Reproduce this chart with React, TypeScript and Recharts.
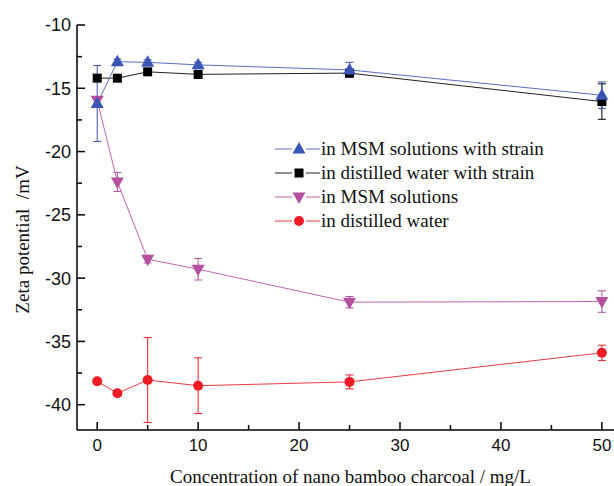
import { ErrorBar, Line, LineChart, XAxis, YAxis } from 'recharts';

// concentration of nano bamboo charcoal, mg/L
const concentrations = [0, 2, 5, 10, 25, 50];

// zeta potential, mV (with error bars)
const msmStrain = [-16.2, -12.9, -12.95, -13.15, -13.55, -15.55];
const msmStrainErr = [3.0, 0.2, 0.2, 0.2, 0.6, 1.05];
const waterStrain = [-14.2, -14.2, -13.7, -13.9, -13.8, -16.05];
const waterStrainErr = [0.2, 0.2, 0.2, 0.3, 0.2, 1.4];
const msm = [-15.95, -22.4, -28.5, -29.3, -31.9, -31.85];
const msmErr = [0.3, 0.75, 0.3, 0.85, 0.45, 0.85];
const water = [-38.15, -39.1, -38.05, -38.5, -38.2, -35.9];
const waterErr = [0.2, 0.15, 3.35, 2.2, 0.55, 0.6];

const xTicks = [0, 5, 10, 15, 20, 25, 30, 35, 40, 45, 50];
const yTicks = [-40, -37.5, -35, -32.5, -30, -27.5, -25, -22.5, -20, -17.5, -15, -12.5, -10];

const data = concentrations.map((x, i) => ({
  x,
  msmStrain: msmStrain[i],
  msmStrainErr: msmStrainErr[i],
  waterStrain: waterStrain[i],
  waterStrainErr: waterStrainErr[i],
  msm: msm[i],
  msmErr: msmErr[i],
  water: water[i],
  waterErr: waterErr[i],
}));

type Shape = 'up' | 'square' | 'down' | 'circle';

const series: { key: string; name: string; color: string; line: string; shape: Shape }[] = [
  { key: 'msmStrain', name: 'in MSM solutions with strain', color: '#3a55b4', line: '#5a6ec4', shape: 'up' },
  { key: 'waterStrain', name: 'in distilled water with strain', color: '#000000', line: '#222222', shape: 'square' },
  { key: 'msm', name: 'in MSM solutions', color: '#b5509f', line: '#c463b6', shape: 'down' },
  { key: 'water', name: 'in distilled water', color: '#ee1c25', line: '#ee3a40', shape: 'circle' },
];

const SANS = '"Liberation Sans", Arial, sans-serif';
const SERIF = '"Liberation Serif", "Times New Roman", serif';

function Marker({ cx, cy, shape, color }: { cx: number; cy: number; shape: Shape; color: string }) {
  if (shape === 'up')
    return <polygon points={`${cx},${cy - 7} ${cx - 6.5},${cy + 4.5} ${cx + 6.5},${cy + 4.5}`} fill={color} />;
  if (shape === 'down')
    return <polygon points={`${cx},${cy + 7} ${cx - 6.5},${cy - 4.5} ${cx + 6.5},${cy - 4.5}`} fill={color} />;
  if (shape === 'square') return <rect x={cx - 4.5} y={cy - 4.5} width={9} height={9} fill={color} />;
  return <circle cx={cx} cy={cy} r={5} fill={color} />;
}

const YTick = (props: any) => {
  const { x, y, payload } = props;
  const major = payload.value % 5 === 0;
  const ax = x + 1;
  return (
    <g>
      <line x1={ax} x2={ax + (major ? 8 : 5)} y1={y} y2={y} stroke="#000" strokeWidth={1.5} />
      {major && (
        <text x={ax - 6} y={y} dy="0.36em" textAnchor="end" fontFamily={SANS} fontSize={18} fill="#111">
          {payload.value}
        </text>
      )}
    </g>
  );
};

const XTick = (props: any) => {
  const { x, y, payload } = props;
  const major = payload.value % 10 === 0;
  const ay = y - 1;
  return (
    <g>
      <line x1={x} x2={x} y1={ay} y2={ay - (major ? 8 : 5)} stroke="#000" strokeWidth={1.5} />
      {major && (
        <text x={x} y={ay + 21} textAnchor="middle" fontFamily={SANS} fontSize={17} fill="#111">
          {payload.value}
        </text>
      )}
    </g>
  );
};

const TopTick = (props: any) => {
  const { x, y, payload } = props;
  const major = payload.value % 10 === 0;
  const ay = y + 1;
  return <line x1={x} x2={x} y1={ay} y2={ay + (major ? 8 : 5)} stroke="#000" strokeWidth={1.5} />;
};

export default function App() {
  return (
    <div style={{ position: 'absolute', left: 0, top: 0, width: 614, height: 486, background: '#fff' }}>
      <LineChart width={614} height={486} data={data} margin={{ top: 25, right: 0, left: 0, bottom: 0 }}>
        <XAxis
          type="number"
          dataKey="x"
          domain={[-2, 51.2]}
          ticks={xTicks}
          interval={0}
          height={56}
          tick={XTick}
          tickSize={1}
          tickMargin={0}
          tickLine={false}
          axisLine={{ stroke: '#000', strokeWidth: 1.5 }}
          allowDataOverflow
          label={{
            content: (p: any) => (
              <text
                x={p.viewBox.x + p.viewBox.width / 2 + 5}
                y={483}
                textAnchor="middle"
                fontFamily={SERIF}
                fontSize={19}
                fill="#111"
              >
                Concentration of nano bamboo charcoal / mg/L
              </text>
            ),
          }}
        />
        <XAxis
          xAxisId="top"
          orientation="top"
          type="number"
          dataKey="x"
          domain={[-2, 51.2]}
          ticks={xTicks}
          interval={0}
          height={0}
          tick={TopTick}
          tickSize={1}
          tickMargin={0}
          tickLine={false}
          axisLine={{ stroke: '#000', strokeWidth: 1.5 }}
          allowDataOverflow
        />
        <YAxis
          type="number"
          domain={[-42, -10]}
          ticks={yTicks}
          interval={0}
          width={77}
          tick={YTick}
          tickSize={1}
          tickMargin={0}
          tickLine={false}
          axisLine={{ stroke: '#000', strokeWidth: 1.5 }}
          allowDataOverflow
          label={{
            content: (p: any) => {
              const cx = 22;
              const cy = p.viewBox.y + p.viewBox.height / 2 + 12;
              return (
                <text
                  x={cx}
                  y={cy}
                  transform={`rotate(-90 ${cx} ${cy})`}
                  textAnchor="middle"
                  dominantBaseline="central"
                  fontFamily={SERIF}
                  fontSize={19}
                  fill="#111"
                  style={{ whiteSpace: 'pre' }}
                >
                  {'Zeta potential  /mV'}
                </text>
              );
            },
          }}
        />
        {[...series].reverse().map((s) => (
          <Line
            key={s.key}
            type="linear"
            dataKey={s.key}
            name={s.name}
            stroke={s.line}
            strokeWidth={1}
            isAnimationActive={false}
            dot={(p: any) => (
              <Marker key={`${s.key}-${p.index}`} cx={p.cx} cy={p.cy} shape={s.shape} color={s.color} />
            )}
            activeDot={false}
          >
            <ErrorBar dataKey={`${s.key}Err`} width={4} stroke={s.color} strokeWidth={1} direction="y" />
          </Line>
        ))}
      </LineChart>
      <svg
        width={300}
        height={100}
        style={{ position: 'absolute', left: 275, top: 139 }}
      >
        {series.map((s, i) => {
          const cy = 10 + i * 24;
          return (
            <g key={s.key}>
              <line x1={0} x2={17} y1={cy} y2={cy} stroke={s.line} strokeWidth={1} />
              <line x1={31} x2={45} y1={cy} y2={cy} stroke={s.line} strokeWidth={1} />
              <Marker cx={24} cy={cy} shape={s.shape} color={s.color} />
              <text x={46} y={cy} dy="0.33em" fontFamily={SERIF} fontSize={19} fill="#111">
                {s.name}
              </text>
            </g>
          );
        })}
      </svg>
    </div>
  );
}
